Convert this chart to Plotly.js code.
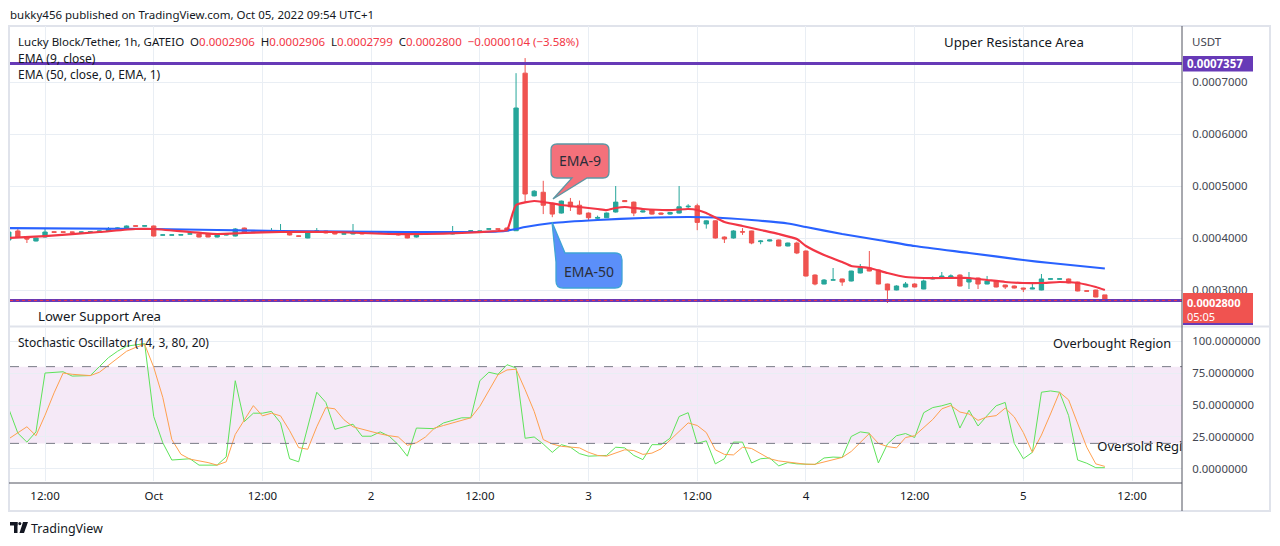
<!DOCTYPE html>
<html><head><meta charset="utf-8">
<script src="https://cdn.plot.ly/plotly-3.0.1.min.js"></script>
<style>html,body{margin:0;padding:0;background:#fff;} #chart{width:1280px;height:546px;}</style>
</head><body><div id="chart"></div>
<script>
// ---- DATA (1h candles LKB/USDT, GATEIO, from 2022-09-30 08:00) ----
const firstCandle = [2022, 8, 30, 8]; // Y, M(0-based), D, H
const opens = [0.0003962,0.0004135,0.0004000,0.0003942,0.0004019,0.0004120,0.0004118,0.0004115,0.0004110,0.0004112,
0.0004115,0.0004135,0.0004173,0.0004173,0.0004235,0.0004228,0.0004231,0.0004055,0.0004055,0.0004056,
0.0004075,0.0004077,0.0004077,0.0004019,0.0004058,0.0004038,0.0004192,0.0004115,0.0004118,0.0004110,
0.0004115,0.0004115,0.0004040,0.0004000,0.0004130,0.0004135,0.0004115,0.0004075,0.0004077,0.0004115,
0.0004100,0.0004098,0.0004098,0.0004096,0.0004096,0.0004019,0.0004098,0.0004098,0.0004100,0.0004077,
0.0004112,0.0004132,0.0004115,0.0004170,0.0004176,0.0004192,0.0004140,0.0007170,0.0004810,0.0004880,
0.0004670,0.0004480,0.0004690,0.0004630,0.0004480,0.0004380,0.0004390,0.0004500,0.0004720,0.0004690,
0.0004500,0.0004540,0.0004480,0.0004460,0.0004480,0.0004600,0.0004620,0.0004270,0.0004330,0.0004019,
0.0004000,0.0004120,0.0004135,0.0003930,0.0003942,0.0003962,0.0003846,0.0003904,0.0003750,0.0003288,
0.0003115,0.0003190,0.0003212,0.0003173,0.0003327,0.0003423,0.0003385,0.0003115,0.0003000,0.0003058,
0.0003115,0.0003019,0.0003212,0.0003231,0.0003250,0.0003288,0.0003154,0.0003231,0.0003115,0.0003173,
0.0003096,0.0003077,0.0003038,0.0003019,0.0003000,0.0003208,0.0003208,0.0003212,0.0003154,0.0002985,
0.0003000,0.0002906];
const highs = [0.0004135,0.0004173,0.0004019,0.0004005,0.0004173,0.0004125,0.0004122,0.0004120,0.0004120,0.0004122,
0.0004140,0.0004211,0.0004200,0.0004240,0.0004240,0.0004240,0.0004240,0.0004065,0.0004065,0.0004066,
0.0004085,0.0004085,0.0004090,0.0004062,0.0004070,0.0004190,0.0004200,0.0004120,0.0004122,0.0004192,
0.0004269,0.0004120,0.0004045,0.0004100,0.0004192,0.0004140,0.0004120,0.0004085,0.0004269,0.0004120,
0.0004105,0.0004102,0.0004102,0.0004100,0.0004100,0.0004062,0.0004102,0.0004102,0.0004105,0.0004231,
0.0004120,0.0004140,0.0004140,0.0004180,0.0004180,0.0004200,0.0007170,0.0007460,0.0004920,0.0005100,
0.0004680,0.0004720,0.0004770,0.0004720,0.0004490,0.0004430,0.0004490,0.0005000,0.0004730,0.0004700,
0.0004530,0.0004550,0.0004490,0.0004500,0.0005000,0.0004650,0.0004660,0.0004340,0.0004340,0.0004030,
0.0004150,0.0004190,0.0004140,0.0003960,0.0003970,0.0003970,0.0003910,0.0003930,0.0003760,0.0003300,
0.0003210,0.0003423,0.0003220,0.0003370,0.0003500,0.0003750,0.0003390,0.0003120,0.0003090,0.0003154,
0.0003130,0.0003200,0.0003260,0.0003346,0.0003300,0.0003300,0.0003346,0.0003240,0.0003270,0.0003180,
0.0003100,0.0003085,0.0003045,0.0003135,0.0003308,0.0003218,0.0003218,0.0003220,0.0003160,0.0002990,
0.0003005,0.0002906];
const lows = [0.0003904,0.0004000,0.0003904,0.0003935,0.0004010,0.0004108,0.0004108,0.0004106,0.0004105,0.0004108,
0.0004110,0.0004130,0.0004165,0.0004170,0.0004225,0.0004225,0.0004030,0.0004050,0.0004050,0.0004052,
0.0004070,0.0004010,0.0004015,0.0004010,0.0004050,0.0004030,0.0004090,0.0004105,0.0004108,0.0004105,
0.0004096,0.0004050,0.0004030,0.0003995,0.0004125,0.0004090,0.0004070,0.0004070,0.0004070,0.0004070,
0.0004090,0.0004088,0.0004086,0.0004050,0.0003995,0.0004010,0.0004088,0.0004090,0.0004090,0.0004070,
0.0004108,0.0004128,0.0004110,0.0004165,0.0004165,0.0004130,0.0004135,0.0004690,0.0004800,0.0004460,
0.0004400,0.0004470,0.0004520,0.0004450,0.0004330,0.0004340,0.0004385,0.0004490,0.0004695,0.0004420,
0.0004490,0.0004450,0.0004450,0.0004450,0.0004470,0.0004560,0.0004150,0.0004180,0.0003990,0.0003904,
0.0003990,0.0004060,0.0003880,0.0003880,0.0003935,0.0003840,0.0003840,0.0003690,0.0003260,0.0003090,
0.0003110,0.0003185,0.0003080,0.0003165,0.0003320,0.0003360,0.0003110,0.0002750,0.0002995,0.0003050,
0.0003050,0.0003015,0.0003205,0.0003225,0.0003245,0.0003070,0.0003019,0.0003019,0.0003110,0.0003050,
0.0003019,0.0003030,0.0002960,0.0003015,0.0002995,0.0003205,0.0003205,0.0003130,0.0002975,0.0002975,
0.0002860,0.0002799];
const closes = [0.0004115,0.0004019,0.0003981,0.0004000,0.0004115,0.0004110,0.0004112,0.0004110,0.0004115,0.0004118,
0.0004135,0.0004173,0.0004192,0.0004231,0.0004228,0.0004235,0.0004038,0.0004060,0.0004060,0.0004062,
0.0004080,0.0004019,0.0004019,0.0004058,0.0004065,0.0004173,0.0004096,0.0004110,0.0004112,0.0004120,
0.0004130,0.0004058,0.0004035,0.0004096,0.0004135,0.0004096,0.0004077,0.0004080,0.0004115,0.0004077,
0.0004094,0.0004092,0.0004090,0.0004058,0.0004000,0.0004058,0.0004092,0.0004094,0.0004094,0.0004096,
0.0004118,0.0004138,0.0004135,0.0004176,0.0004170,0.0004135,0.0006500,0.0004846,0.0004900,0.0004630,
0.0004460,0.0004710,0.0004600,0.0004460,0.0004390,0.0004395,0.0004480,0.0004690,0.0004700,0.0004480,
0.0004520,0.0004460,0.0004460,0.0004490,0.0004600,0.0004610,0.0004300,0.0004330,0.0004000,0.0003981,
0.0004135,0.0004115,0.0003904,0.0003942,0.0003962,0.0003846,0.0003904,0.0003712,0.0003269,0.0003115,
0.0003192,0.0003195,0.0003154,0.0003365,0.0003423,0.0003365,0.0003115,0.0003000,0.0003077,0.0003115,
0.0003058,0.0003173,0.0003231,0.0003269,0.0003269,0.0003077,0.0003231,0.0003115,0.0003173,0.0003058,
0.0003058,0.0003038,0.0003019,0.0003038,0.0003212,0.0003215,0.0003215,0.0003135,0.0002981,0.0002978,
0.0002865,0.0002800];

// EMA readings: candle index -> value
const ema9Idx = [0,4,10,14,16,20,23,26,30,36,42,46,50,54,55,56,58,59,61,63,65,66,67,68,70,73,75,76,77,79,81,83,85,87,88,90,92,93,95,97,99,101,104,106,108,110,112,114,116,118,120,121];
const ema9Val = [0.0004000,0.0004038,0.0004115,0.0004173,0.0004173,0.0004115,0.0004077,0.0004096,0.0004115,0.0004115,0.0004077,0.0004077,0.0004096,0.0004135,0.0004154,0.0004635,0.0004712,0.0004692,0.0004635,0.0004596,0.0004558,0.0004538,0.0004577,0.0004596,0.0004558,0.0004538,0.0004558,0.0004538,0.0004481,0.0004308,0.0004231,0.0004154,0.0004077,0.0003981,0.0003846,0.0003673,0.0003538,0.0003462,0.0003423,0.0003327,0.0003250,0.0003231,0.0003231,0.0003231,0.0003192,0.0003154,0.0003135,0.0003135,0.0003154,0.0003135,0.0003058,0.0003000];
const ema50Idx = [0,16,30,44,54,56,57,60,65,70,75,78,82,86,88,92,96,100,106,112,115,121];
const ema50Val = [0.0004192,0.0004173,0.0004135,0.0004115,0.0004125,0.0004173,0.0004211,0.0004288,0.0004346,0.0004385,0.0004404,0.0004394,0.0004346,0.0004279,0.0004211,0.0004077,0.0003962,0.0003846,0.0003712,0.0003577,0.0003519,0.0003413];

// Stochastic (14,3): %K and %D per candle
const stochK = [47,28,21,29,75,75.5,76,72.6,72.8,73,80,87,92,96,97,98,41,20.5,7,7.5,
8,3,3,3,9.5,69,37,43.6,43.6,45,36,8,5.6,33,60,52,31,33,35,25.6,
25.6,29,25.6,19,10,32,31.5,31.5,36,38,40,40,69,75.6,74,81.5,79,24,25,19.5,
13,19,17,12,10,10.3,10.6,17,16.5,10.6,7.3,19,19,24,41,44,20,22,4,8,
21,21,4.7,8,8.6,2.4,5,4,3.7,3.5,8.6,9.3,9,25.4,29,28,4.7,19.5,26,27.7,
24.6,44,48,49.4,51.4,32,46,33.6,41.7,49.4,52,20,8,13,60,61,60,41.7,7,4.5,
1,1];
const stochD = [23.6,28,33,26,42,59.5,75,74,73.5,73,75.6,81,87,92,95,97.4,79.5,56,23,11.5,
7.7,6.4,5,3,5.6,27,38,49.5,41.5,43.6,41.5,30,16.7,15.4,33,48,47,38.5,33,31,
29.5,27.4,26,25,18.5,20.5,25,32,34,36,38.5,40,49,61.5,73.6,77.4,78,62,45,23,
19.5,17.7,17,16.5,13,10.6,10,12.6,15,14.4,11.4,12.4,15.7,22.6,29.7,36,34,28.5,15,11.4,
11,17,16,12,8,6.3,5.5,4.2,3.7,3.7,5.5,7.3,9,13.7,21,27.7,20,17.5,16.5,24.6,
26,32,38.7,47,49.6,44.5,43,38,40.7,41.7,47.6,40.7,28.5,13,26.5,43,60,54,36,17,
4,2];

const priceTicks = [0.0003, 0.0004, 0.0005, 0.0006, 0.0007];
const priceTickText = ['0.0003000','0.0004000','0.0005000','0.0006000','0.0007000'];
const stochTicks = [0, 25, 50, 75, 100];
const stochTickText = ['0.0000000','25.0000000','50.0000000','75.0000000','100.0000000'];
const timeTicks = ['2022-09-30 12:00','2022-10-01 00:00','2022-10-01 12:00','2022-10-02 00:00','2022-10-02 12:00','2022-10-03 00:00','2022-10-03 12:00','2022-10-04 00:00','2022-10-04 12:00','2022-10-05 00:00','2022-10-05 12:00'];
const timeTickText = ['12:00','Oct','12:00','2','12:00','3','12:00','4','12:00','5','12:00'];
const resistance = 0.0007357;
const support = 0.0002800;

// ---- build ----
const times = opens.map((_, i) => {
  const d = new Date(Date.UTC(firstCandle[0], firstCandle[1], firstCandle[2], firstCandle[3] + i));
  return d.toISOString().slice(0, 16).replace('T', ' ');
});
const FONT = 'Noto Sans, Roboto, sans-serif';
const TXT = '#131722';
const L = 10, R = 1182, T = 26, B = 481;
const px = x => (x - L) / (R - L);
const py = y => (B - y) / (B - T);
function pathOf(pts) {
  return pts.map(p => p[0] === 'Z' ? 'Z' : (p[0] === 'Q' ? `Q${px(p[1])},${py(p[2])} ${px(p[3])},${py(p[4])}` : `${p[0]}${px(p[1])},${py(p[2])}`)).join(' ');
}

const traces = [
  { type: 'candlestick', x: times, open: opens, high: highs, low: lows, close: closes,
    xaxis: 'x', yaxis: 'y', whiskerwidth: 0,
    increasing: { line: { color: '#26a69a', width: 1 }, fillcolor: '#26a69a' },
    decreasing: { line: { color: '#ef5350', width: 1 }, fillcolor: '#ef5350' },
    hoverinfo: 'skip', showlegend: false },
  { type: 'scatter', mode: 'lines', x: ema50Idx.map(i => times[i]), y: ema50Val, xaxis: 'x', yaxis: 'y',
    line: { color: '#2962ff', width: 2.2, shape: 'spline', smoothing: 0.6 }, hoverinfo: 'skip', showlegend: false },
  { type: 'scatter', mode: 'lines', x: ema9Idx.map(i => times[i]), y: ema9Val, xaxis: 'x', yaxis: 'y',
    line: { color: '#f23645', width: 2.2, shape: 'spline', smoothing: 0.5 }, hoverinfo: 'skip', showlegend: false },
  { type: 'scatter', mode: 'lines', x: times, y: stochK, xaxis: 'x', yaxis: 'y2',
    line: { color: '#5ee35a', width: 1 }, hoverinfo: 'skip', showlegend: false },
  { type: 'scatter', mode: 'lines', x: times, y: stochD, xaxis: 'x', yaxis: 'y2',
    line: { color: '#ffa04f', width: 1 }, hoverinfo: 'skip', showlegend: false },
  { type: 'scatter', mode: 'text', x: ['2022-10-05 08:10'], y: [16.4], xaxis: 'x', yaxis: 'y2',
    text: ['Oversold Region'], textposition: 'middle right', cliponaxis: true,
    textfont: { family: FONT, size: 13, color: TXT }, hoverinfo: 'skip', showlegend: false }
];

const shapes = [
  { type: 'rect', xref: 'paper', yref: 'y2', x0: 0, x1: 1, y0: 20, y1: 80, fillcolor: 'rgba(156,39,176,0.1)', line: { width: 0 }, layer: 'below' },
  { type: 'line', xref: 'paper', yref: 'y2', x0: 0, x1: 1, y0: 80, y1: 80, line: { color: '#787b86', width: 1, dash: 'dash' } },
  { type: 'line', xref: 'paper', yref: 'y2', x0: 0, x1: 1, y0: 20, y1: 20, line: { color: '#787b86', width: 1, dash: 'dash' } },
  { type: 'line', xref: 'paper', yref: 'y', x0: 0, x1: 1, y0: resistance, y1: resistance, line: { color: '#673ab7', width: 3 } },
  { type: 'line', xref: 'paper', yref: 'y', x0: 0, x1: 1, y0: support, y1: support, line: { color: '#673ab7', width: 3 } },
  { type: 'line', xref: 'paper', yref: 'y', x0: 0, x1: 1, y0: support, y1: support, line: { color: '#f23645', width: 1, dash: 'dot' } },
  { type: 'rect', xref: 'paper', yref: 'paper', x0: px(9), x1: px(1270), y0: py(26), y1: py(511), line: { color: '#e0e3eb', width: 2 }, layer: 'below' },
  { type: 'line', xref: 'paper', yref: 'paper', x0: px(9), x1: px(1270), y0: py(326.5), y1: py(326.5), line: { color: '#e0e3eb', width: 2 } },
  { type: 'line', xref: 'paper', yref: 'paper', x0: px(R), x1: px(R), y0: py(26), y1: py(511), line: { color: '#50535e', width: 1 } },
  { type: 'line', xref: 'paper', yref: 'paper', x0: px(9), x1: px(R), y0: py(483), y1: py(483), line: { color: '#50535e', width: 1 } },
  { type: 'rect', xref: 'paper', yref: 'paper', x0: px(1183), x1: px(1253), y0: py(56), y1: py(71.5), fillcolor: '#673ab7', line: { width: 0 } },
  { type: 'rect', xref: 'paper', yref: 'paper', x0: px(1183), x1: px(1253), y0: py(293), y1: py(324), fillcolor: '#f05350', line: { width: 0 } },
  { type: 'line', xref: 'paper', yref: 'paper', x0: px(1183), x1: px(1253), y0: py(324), y1: py(324), line: { color: '#673ab7', width: 2 } },
  { type: 'path', xref: 'paper', yref: 'paper', fillcolor: '#f4717b', line: { color: '#5c97a4', width: 1.3 },
    path: pathOf([['M',557,144],['L',603,144],['Q',609,144,609,150],['L',609,172],['Q',609,178,603,178],['L',587,178],['L',553,199],['L',572,178],['L',557,178],['Q',551,178,551,172],['L',551,150],['Q',551,144,557,144],['Z']]) },
  { type: 'path', xref: 'paper', yref: 'paper', fillcolor: '#5b8ff9', line: { color: '#3fa4d6', width: 1.3 },
    path: pathOf([['M',565,253],['L',615,253],['Q',622,253,622,260],['L',622,281],['Q',622,288,615,288],['L',563,288],['Q',556,288,556,281],['L',556,262],['L',552,222],['Z']]) },
  { type: 'rect', xref: 'paper', yref: 'paper', x0: px(10), x1: px(17.5), y0: py(522), y1: py(525.5), fillcolor: '#131722', line: { width: 0 } },
  { type: 'rect', xref: 'paper', yref: 'paper', x0: px(14), x1: px(17.5), y0: py(522), y1: py(533), fillcolor: '#131722', line: { width: 0 } },
  { type: 'circle', xref: 'paper', yref: 'paper', x0: px(18.3), x1: px(21.3), y0: py(522), y1: py(525.2), fillcolor: '#131722', line: { width: 0 } },
  { type: 'path', xref: 'paper', yref: 'paper', fillcolor: '#131722', line: { width: 0 },
    path: pathOf([['M',23,522],['L',28,522],['L',24,533],['L',19.5,533],['Z']]) }
];

function ann(x, y, text, size, color, anchor, extra) {
  return Object.assign({ xref: 'paper', yref: 'paper', x: px(x), y: py(y), text: text, showarrow: false, borderpad: 0,
    xanchor: anchor || 'left', yanchor: 'middle', font: { family: FONT, size: size, color: color || TXT } }, extra || {});
}
const red = s => `<span style="color:#f23645">${s}</span>`;
const annotations = [
  ann(9, 14, 'bukky456 published on TradingView.com, Oct 05, 2022 09:54 UTC+1', 11.5, '#131722'),
  ann(17, 42, 'Lucky Block/Tether, 1h, GATEIO&nbsp;&nbsp;O' + red('0.0002906') + '&nbsp;&nbsp;H' + red('0.0002906') + '&nbsp;&nbsp;L' + red('0.0002799') + '&nbsp;&nbsp;C' + red('0.0002800') + '&nbsp;&nbsp;' + red('−0.0000104 (−3.58%)'), 11.5),
  ann(17, 59, 'EMA (9, close)', 12),
  ann(17, 75, 'EMA (50, close, 0, EMA, 1)', 12),
  ann(17, 342, 'Stochastic Oscillator (14, 3, 80, 20)', 12),
  ann(943, 42, 'Upper Resistance Area', 13.2),
  ann(37, 316, 'Lower Support Area', 13.2),
  ann(1052, 343, 'Overbought Region', 12.8),
  ann(1191, 41, 'USDT', 11.5, '#434651'),
  ann(1186, 63.5, '<b>0.0007357</b>', 11.5, '#ffffff'),
  ann(1186, 302.5, '<b>0.0002800</b>', 11, '#ffffff'),
  ann(1186, 316.5, '05:05', 11, '#ffffff'),
  ann(580, 161, 'EMA-9', 14, '#2a2e39', 'center'),
  ann(589, 271, 'EMA-50', 14, '#2a2e39', 'center'),
  ann(30, 528, 'TradingView', 12.5, '#131722')
];

const layout = {
  width: 1280, height: 546,
  margin: { l: L, r: 1280 - R, t: T, b: 546 - B, pad: 0 },
  paper_bgcolor: '#ffffff', plot_bgcolor: '#ffffff',
  showlegend: false, boxgap: 0.32, dragmode: false,
  xaxis: { type: 'date', range: ['2022-09-30 08:08', '2022-10-05 17:31'], anchor: 'y2',
    rangeslider: { visible: false }, showgrid: true, gridcolor: '#e9eef4', gridwidth: 1,
    tickvals: timeTicks, ticktext: timeTickText, ticks: 'outside', ticklen: 4, tickcolor: 'rgba(0,0,0,0)',
    tickfont: { family: FONT, size: 11.5, color: TXT }, zeroline: false, showline: false, fixedrange: true },
  yaxis: { domain: [(B - 325) / (B - T), 1], range: [0.0002327, 0.0008077], side: 'right', anchor: 'x',
    tickvals: priceTicks, ticktext: priceTickText, ticks: 'outside', ticklen: 7, tickcolor: 'rgba(0,0,0,0)',
    showgrid: true, gridcolor: '#e9eef4', zeroline: false, showline: false,
    tickfont: { family: FONT, size: 11.4, color: '#434651' }, fixedrange: true },
  yaxis2: { domain: [0, (B - 328) / (B - T)], range: [-9.4, 110.2], side: 'right', anchor: 'x',
    tickvals: stochTicks, ticktext: stochTickText, ticks: 'outside', ticklen: 7, tickcolor: 'rgba(0,0,0,0)',
    showgrid: true, gridcolor: '#e9eef4', zeroline: false, showline: false,
    tickfont: { family: FONT, size: 11.4, color: '#434651' }, fixedrange: true },
  shapes: shapes, annotations: annotations
};

Plotly.newPlot('chart', traces, layout, { displayModeBar: false, staticPlot: true });
</script>
</body></html>
